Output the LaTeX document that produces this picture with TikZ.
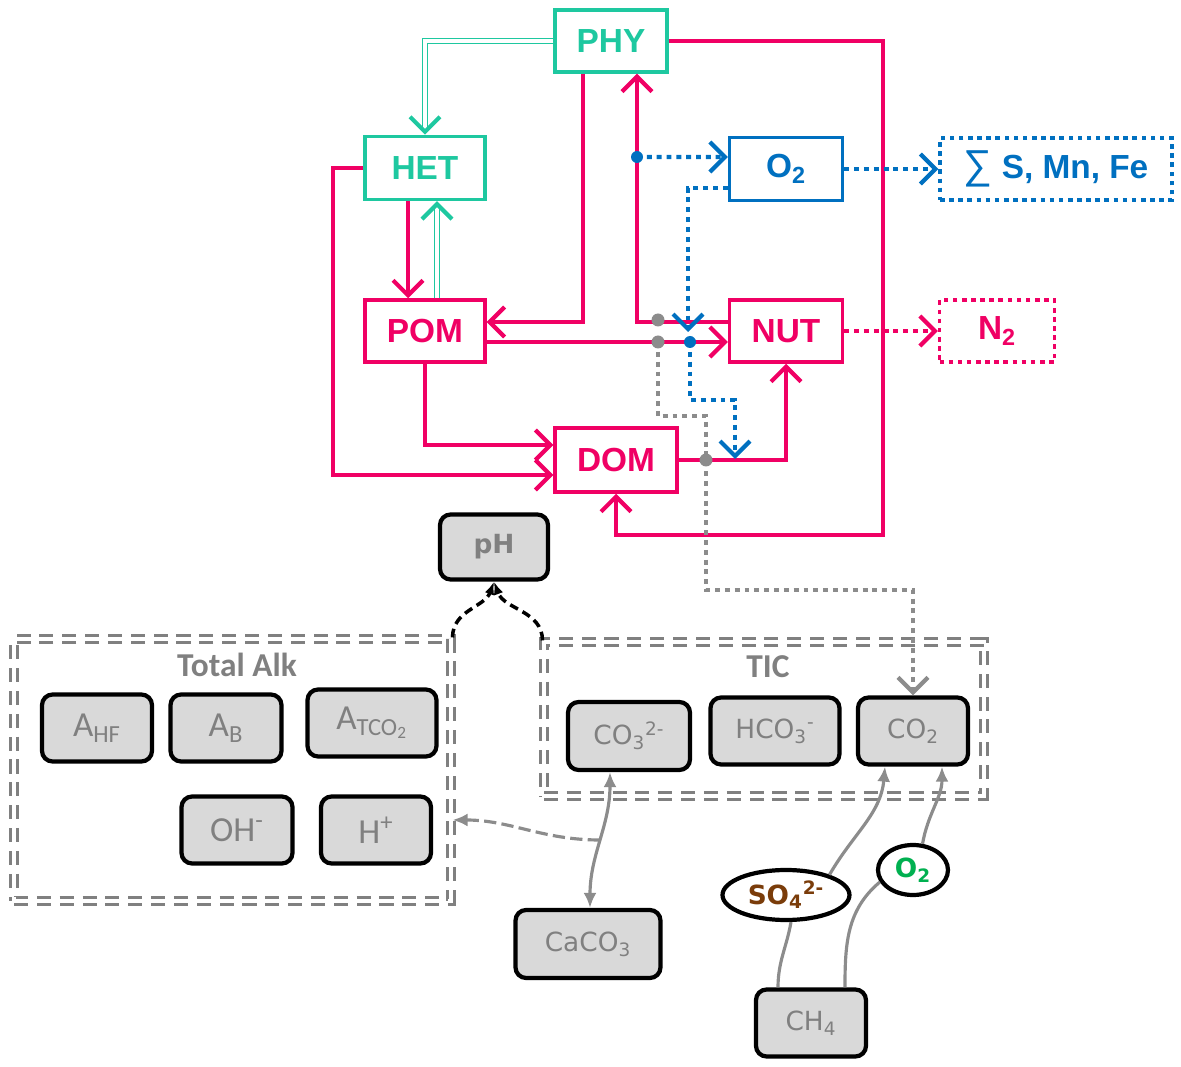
\documentclass[tikz,border=0pt]{standalone}
\usepackage{fontspec}
\setmainfont{Liberation Sans}
\newfontfamily\calfont{Carlito}
\newfontfamily\verfont{DejaVu Sans}
\usetikzlibrary{arrows.meta,shapes.geometric}
\definecolor{pinkred}{RGB}{240,0,100}
\definecolor{tealg}{RGB}{30,200,160}
\definecolor{oblue}{RGB}{0,112,192}
\definecolor{boxgray}{RGB}{217,217,217}
\definecolor{txtgray}{RGB}{128,128,128}
\definecolor{lngray}{RGB}{140,140,140}
\definecolor{sobrown}{RGB}{122,60,10}
\definecolor{ogreen}{RGB}{0,176,80}

\begin{document}
\begin{tikzpicture}[x=0.02cm, y=-0.02cm,
  pool/.style={draw, line width=2pt, fill=white, inner sep=0pt, font=\bfseries\fontsize{19}{22}\selectfont},
  flux/.style={line width=2.4pt, -{Straight Barb[length=3mm,width=6mm,line width=2.4pt]}},
  dotflux/.style={flux, dash pattern=on 2.8pt off 2.8pt},
  chem/.style={draw=black, fill=boxgray, line width=2.4pt, rounded corners=6pt, inner sep=0pt, text=txtgray},
  alkfont/.style={font=\calfont\fontsize{20}{23}\selectfont},
  ticfont/.style={font=\verfont\fontsize{15}{18}\selectfont},
  group/.style={draw=txtgray, double=white, double distance=2.4pt, line width=1.8pt, dash pattern=on 8pt off 5pt, minimum width=#1},
  react/.style={lngray, line width=1.8pt},
  tip/.style={-{Latex[length=3mm,width=2.6mm]}}
]
\useasboundingbox (0,0) rectangle (1181,1067);
% Draw carbonate groups
\node[group=8.74cm, minimum height=5.24cm] (alkbox) at (232.5,770) {};
\node[group=8.8cm, minimum height=3.08cm] (ticbox) at (764,719) {};
\node[text=txtgray, font=\calfont\bfseries\fontsize{19}{22}\selectfont] (alklab) at (237,665) {Total Alk};
\node[text=txtgray, font=\calfont\bfseries\fontsize{19}{22}\selectfont] (ticlab) at (768,667) {TIC};
% Draw pools
\node[pool, draw=tealg, text=tealg, minimum width=2.24cm, minimum height=1.24cm] (PHY) at (611,41) {PHY};
\node[pool, draw=tealg, text=tealg, minimum width=2.4cm, minimum height=1.26cm] (HET) at (425,168) {HET};
\node[pool, draw=oblue, text=oblue, minimum width=2.26cm, minimum height=1.26cm] (O2top) at (786,169) {O\textsubscript{2}};
\node[pool, draw=oblue, text=oblue, dash pattern=on 2.6pt off 2.6pt, minimum width=4.64cm, minimum height=1.24cm] (SMnFe) at (1056,169) {{\mdseries\fontsize{23}{23}\selectfont ∑} S, Mn, Fe};
\node[pool, draw=pinkred, text=pinkred, minimum width=2.4cm, minimum height=1.24cm] (POM) at (425,331) {POM};
\node[pool, draw=pinkred, text=pinkred, minimum width=2.26cm, minimum height=1.24cm] (NUT) at (786,331) {NUT};
\node[pool, draw=pinkred, text=pinkred, dash pattern=on 2.6pt off 2.6pt, minimum width=2.3cm, minimum height=1.24cm] (N2) at (997,331) {N\textsubscript{2}};
\node[pool, draw=pinkred, text=pinkred, minimum width=2.44cm, minimum height=1.28cm] (DOM) at (616,460) {DOM};
% Draw species
\node[chem, font=\verfont\bfseries\fontsize{15}{18}\selectfont, minimum width=2.16cm, minimum height=1.3cm] (pH) at (494,547) {pH};
\node[chem, alkfont, minimum width=2.2cm, minimum height=1.34cm] (AHF) at (97,728) {A\textsubscript{HF}};
\node[chem, alkfont, minimum width=2.22cm, minimum height=1.34cm] (AB) at (226,728) {A\textsubscript{B}};
\node[chem, alkfont, minimum width=2.58cm, minimum height=1.34cm] (ATCO) at (372,723) {A\textsubscript{TCO\textsubscript{2}}};
\node[chem, alkfont, minimum width=2.22cm, minimum height=1.34cm] (OH) at (237,830) {OH\textsuperscript{-}};
\node[chem, alkfont, minimum width=2.2cm, minimum height=1.34cm] (Hp) at (376,830) {H\textsuperscript{+}};
\node[chem, ticfont, minimum width=2.44cm, minimum height=1.36cm] (CO3) at (629,736) {CO\textsubscript{3}\textsuperscript{2-}};
\node[chem, ticfont, minimum width=2.58cm, minimum height=1.34cm] (HCO3) at (775,731) {HCO\textsubscript{3}\textsuperscript{-}};
\node[chem, ticfont, minimum width=2.2cm, minimum height=1.34cm] (CO2) at (913,731) {CO\textsubscript{2}};
\node[chem, ticfont, minimum width=2.9cm, minimum height=1.36cm] (CaCO3) at (588,944) {CaCO\textsubscript{3}};
\node[chem, ticfont, minimum width=2.2cm, minimum height=1.34cm] (CH4) at (811,1023) {CH\textsubscript{4}};
\node[ellipse, draw=black, fill=white, line width=2.4pt, inner sep=0pt, minimum width=2.54cm, minimum height=1cm, text=sobrown, font=\verfont\bfseries\fontsize{15}{18}\selectfont] (SO4) at (786,895) {SO\textsubscript{4}\textsuperscript{2-}};
\node[ellipse, draw=black, fill=white, line width=2.4pt, inner sep=0pt, minimum width=1.4cm, minimum height=1cm, text=ogreen, font=\verfont\bfseries\fontsize{15}{18}\selectfont] (O2bot) at (913,870) {O\textsubscript{2}};
% Draw grazing
\draw[flux, tealg, line width=1pt, double=white, double distance=1.8pt] (PHY.west) -| (HET.north);
\draw[flux, tealg, line width=1pt, double=white, double distance=1.8pt] ([xshift=0.24cm]POM.north) -- ([xshift=0.24cm]HET.south);
% Draw carbon and nutrient fluxes
\draw[flux, pinkred] ([xshift=-0.34cm]HET.south) -- ([xshift=-0.34cm]POM.north);
\draw[flux, pinkred] ([xshift=-0.56cm]PHY.south) |- ([yshift=0.18cm]POM.east);
\draw[flux, pinkred] ([yshift=0.18cm]NUT.west) -| ([xshift=0.52cm]PHY.south);
\draw[flux, pinkred] ([yshift=-0.22cm]POM.east) -- ([yshift=-0.22cm]NUT.west);
\draw[flux, pinkred] (POM.south) |- ([yshift=0.3cm]DOM.west);
\draw[flux, pinkred] (HET.west) -- (333,168) |- ([yshift=-0.3cm]DOM.west);
\draw[flux, pinkred] (DOM.east) -| (NUT.south);
\draw[flux, pinkred] (PHY.east) -- (883,41) -- (883,535) -| (DOM.south);
\draw[dotflux, pinkred] (NUT.east) -- (N2.west);
% Draw oxygen fluxes
\coordinate (o2src) at (637,157);
\coordinate (o2sink) at (690,342);
\draw[dotflux, oblue] (o2src) -- ([yshift=0.24cm]O2top.west);
\draw[dotflux, oblue] (O2top.east) -- (SMnFe.west);
\draw[dotflux, oblue] ([yshift=-0.38cm]O2top.west) -| (688,332);
\draw[dotflux, oblue] (o2sink) -- (690,400) -- (735,400) -- (735,459);
\fill[oblue] (o2src) circle[radius=0.12cm];
\fill[oblue] (o2sink) circle[radius=0.12cm];
% Draw carbon to TIC
\coordinate (cnut) at (658,342);
\coordinate (cphy) at (658,320);
\coordinate (cdom) at (706,460);
\draw[dotflux, lngray] (cnut) -- (658,416) -- (706,416) -- (706,590) -| (CO2.north);
\foreach \c in {cnut,cphy,cdom}
    \fill[lngray] (\c) circle[radius=0.13cm];
% Draw carbonate reactions
\draw[line width=2pt, dash pattern=on 5pt off 3pt, -{Latex[length=2.6mm]}] (alkbox.north east) to[out=90,in=-110] (pH.south);
\draw[line width=2pt, dash pattern=on 5pt off 3pt, -{Latex[length=2.6mm]}] (ticbox.north west) to[out=90,in=-70] (pH.south);
\draw[react, {Latex[length=3mm,width=2.6mm]}-{Latex[length=3mm,width=2.6mm]}] ([xshift=-0.38cm]CO3.south) to[out=-90,in=90] coordinate[pos=0.5] (cc) ([xshift=0.04cm]CaCO3.north);
\draw[react, tip, dash pattern=on 7pt off 3pt] (cc) to[out=180,in=0] ([yshift=-1cm]alkbox.east);
\draw[react] ([xshift=-0.66cm]CH4.north) to[out=90,in=-100] ([xshift=0.1cm]SO4.south);
\draw[react, tip] (SO4.25) to[out=60,in=-95] ([xshift=-0.56cm]CO2.south);
\draw[react] ([xshift=0.68cm]CH4.north) to[out=90,in=220] (O2bot.200);
\draw[react, tip] (O2bot.70) to[out=80,in=-90] ([xshift=0.58cm]CO2.south);
\end{tikzpicture}
\end{document}
